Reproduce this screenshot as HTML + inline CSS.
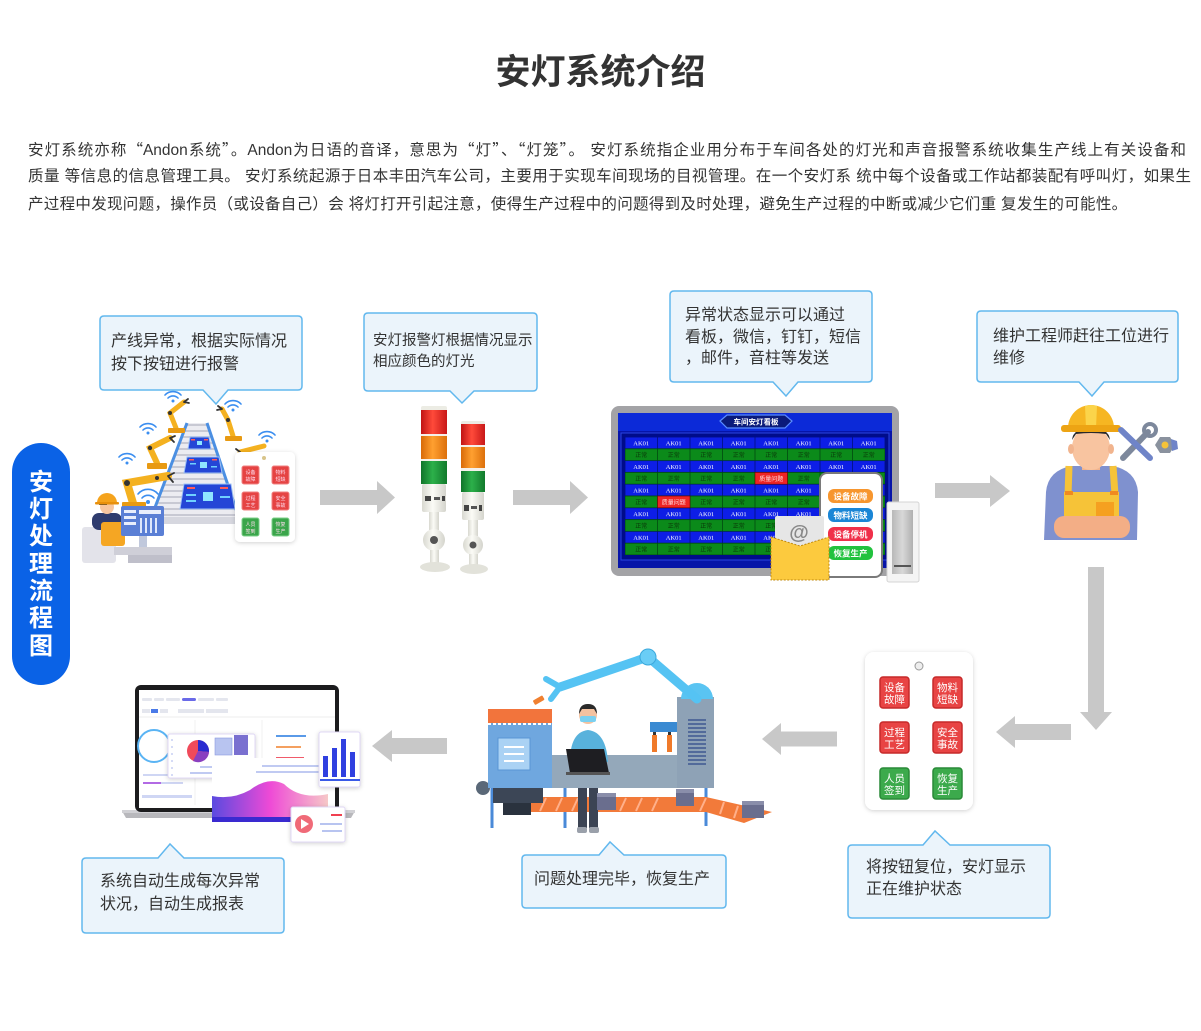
<!DOCTYPE html>
<html><head><meta charset="utf-8">
<style>
html,body{margin:0;padding:0;background:#fff;}
body{width:1201px;height:1031px;position:relative;overflow:hidden;font-family:"Liberation Sans","Noto Sans CJK SC",sans-serif;color:#333;}
.t{position:absolute;white-space:nowrap;}
.p{position:absolute;left:28px;font-size:15.5px;line-height:28px;text-align:justify;text-align-last:justify;color:#333;}
.q{font-family:"Noto Sans CJK SC",sans-serif;}
.c{position:absolute;white-space:nowrap;font-size:16px;color:#333;}
svg{position:absolute;left:0;top:0;}
.pill{position:absolute;left:12px;top:443px;width:58px;height:242px;border-radius:29px;background:#0a62e6;}
.pill div{position:absolute;left:0;width:58px;text-align:center;color:#fff;font-weight:bold;font-size:24px;line-height:28px;}
</style></head><body>

<div class="t" style="left:0;width:1201px;top:50px;text-align:center;font-size:35px;font-weight:bold;line-height:46px;color:#333;">安灯系统介绍</div>

<div class="p" style="top:135px;width:1158px;">安灯系统亦称<span class="q">“</span>Andon系统<span class="q">”</span>。Andon为日语的音译，意思为<span class="q">“</span>灯<span class="q">”</span>、<span class="q">“</span>灯笼<span class="q">”</span>。 安灯系统指企业用分布于车间各处的灯光和声音报警系统收集生产线上有关设备和</div>
<div class="p" style="top:163px;width:1163px;">质量 等信息的信息管理工具。 安灯系统起源于日本丰田汽车公司，主要用于实现车间现场的目视管理。在一个安灯系 统中每个设备或工作站都装配有呼叫灯，如果生</div>
<div class="p" style="top:191px;width:1160px;text-align:left;text-align-last:left;letter-spacing:0.3px;white-space:nowrap;">产过程中发现问题，操作员（或设备自己）会 将灯打开引起注意，使得生产过程中的问题得到及时处理，避免生产过程的中断或减少它们重 复发生的可能性。</div>

<svg width="1201" height="1031" viewBox="0 0 1201 1031" xmlns="http://www.w3.org/2000/svg" font-family="Liberation Sans, Noto Sans CJK SC, sans-serif">
<defs>
<pattern id="stripes" width="10" height="6" patternUnits="userSpaceOnUse"><rect width="10" height="6" fill="#ececf1"/><rect y="4" width="10" height="2" fill="#c8c9d3"/></pattern>
<pattern id="grid" x="625" y="437" width="32.5" height="23.6" patternUnits="userSpaceOnUse">
<rect x="0" y="0" width="32.5" height="11.8" fill="#0d1ee6" stroke="#00107a" stroke-width="0.8"/>
<text x="16.25" y="8.6" font-size="6.5" fill="#fff" text-anchor="middle" font-family="Liberation Serif, serif">AK01</text>
<rect x="0" y="11.8" width="32.5" height="11.8" fill="#0b8a1a" stroke="#004a10" stroke-width="0.8"/>
<text x="16.25" y="20.4" font-size="6" fill="#083a08" text-anchor="middle">正常</text>
</pattern>
<linearGradient id="wave" x1="0" x2="1" y1="0" y2="0"><stop offset="0" stop-color="#5a4ae0"/><stop offset="0.5" stop-color="#ee4ad6"/><stop offset="1" stop-color="#f6c8c8"/></linearGradient>
<linearGradient id="redg" x1="0" x2="1"><stop offset="0" stop-color="#c01414"/><stop offset="0.45" stop-color="#ff4a3a"/><stop offset="1" stop-color="#c81818"/></linearGradient>
<linearGradient id="orag" x1="0" x2="1"><stop offset="0" stop-color="#d86a08"/><stop offset="0.45" stop-color="#ffa030"/><stop offset="1" stop-color="#dc700c"/></linearGradient>
<linearGradient id="greg" x1="0" x2="1"><stop offset="0" stop-color="#10742a"/><stop offset="0.45" stop-color="#2cb04a"/><stop offset="1" stop-color="#127a2c"/></linearGradient>
<linearGradient id="whg" x1="0" x2="1"><stop offset="0" stop-color="#d8d8d0"/><stop offset="0.45" stop-color="#fbfbf6"/><stop offset="1" stop-color="#d4d4cc"/></linearGradient>
<linearGradient id="spk" x1="0" x2="1"><stop offset="0" stop-color="#b8b8b8"/><stop offset="0.5" stop-color="#d8d8d8"/><stop offset="1" stop-color="#b0b0b0"/></linearGradient>
<filter id="sh" x="-20%" y="-20%" width="140%" height="140%"><feDropShadow dx="0" dy="1" stdDeviation="2" flood-color="#000" flood-opacity="0.18"/></filter>
</defs>

<!-- callouts -->
<g fill="#ebf4fb" stroke="#62b8ee" stroke-width="1.5">
<path d="M104,316 H298 Q302,316 302,320 V386 Q302,390 298,390 H228 L216,404 L203,390 H104 Q100,390 100,386 V320 Q100,316 104,316 Z"/>
<path d="M368,313 H533 Q537,313 537,317 V387 Q537,391 533,391 H474 L462,403 L450,391 H368 Q364,391 364,387 V317 Q364,313 368,313 Z"/>
<path d="M674,291 H868 Q872,291 872,295 V378 Q872,382 868,382 H798 L786,396 L773,382 H674 Q670,382 670,378 V295 Q670,291 674,291 Z"/>
<path d="M981,311 H1174 Q1178,311 1178,315 V378 Q1178,382 1174,382 H1104 L1092,396 L1079,382 H981 Q977,382 977,378 V315 Q977,311 981,311 Z"/>
<path d="M86,858 H158 L170,844 L184,858 H280 Q284,858 284,862 V929 Q284,933 280,933 H86 Q82,933 82,929 V862 Q82,858 86,858 Z"/>
<path d="M526,855 H599 L610,842 L624,855 H722 Q726,855 726,859 V904 Q726,908 722,908 H526 Q522,908 522,904 V859 Q522,855 526,855 Z"/>
<path d="M852,845 H923 L935,831 L950,845 H1046 Q1050,845 1050,849 V914 Q1050,918 1046,918 H852 Q848,918 848,914 V849 Q848,845 852,845 Z"/>
</g>

<!-- arrows -->
<g fill="#c8c8c8">
<polygon points="320,490 377,490 377,481 395,497.5 377,514 377,505 320,505"/>
<polygon points="513,490 570,490 570,481 588,497.5 570,514 570,505 513,505"/>
<polygon points="935,483 990,483 990,475 1010,491 990,507 990,498 935,498"/>
<polygon points="1088,567 1104,567 1104,712 1112,712 1096,730 1080,712 1088,712"/>
<polygon points="1071,724 1015,724 1015,716 996,732 1015,748 1015,740 1071,740"/>
<polygon points="837,731.5 781,731.5 781,723 762,739 781,755 781,746.5 837,746.5"/>
<polygon points="447,738 392,738 392,730 372,746 392,762 392,754 447,754"/>
</g>

<!-- ===== Illustration 1: factory line ===== -->
<polygon points="187,423 207,423 239,518 151,518" fill="url(#stripes)"/>
<line x1="187" y1="423" x2="151" y2="518" stroke="#4b8fe2" stroke-width="3"/>
<line x1="207" y1="423" x2="239" y2="518" stroke="#4b8fe2" stroke-width="3"/>
<rect x="150" y="517" width="92" height="7" fill="#d6d7df"/>
<g stroke="#9fc2f6" stroke-width="1">
<polygon points="190,437 209,437 211,449 188,449" fill="#2446d6"/>
<polygon points="187,457 219,457 222,473 184,473" fill="#2446d6"/>
<polygon points="184,484 231,484 235,509 180,509" fill="#2446d6"/>
</g>
<rect x="197" y="441" width="5" height="4" fill="#8fe6ff"/>
<rect x="200" y="462" width="7" height="6" fill="#8fe6ff"/>
<rect x="203" y="492" width="10" height="9" fill="#8fe6ff"/>
<g fill="#ff5a5a"><rect x="191" y="439" width="4" height="1.5"/><rect x="204" y="439" width="4" height="1.5"/><rect x="189" y="459" width="5" height="1.5"/><rect x="212" y="459" width="5" height="1.5"/><rect x="187" y="487" width="8" height="2"/><rect x="220" y="487" width="8" height="2"/></g>
<g fill="#6fd0ff"><rect x="190" y="463" width="6" height="1.5"/><rect x="211" y="466" width="6" height="1.5"/><rect x="186" y="494" width="10" height="2"/><rect x="220" y="496" width="10" height="2"/><rect x="186" y="500" width="10" height="2"/></g>
<!-- arms -->
<g stroke="#f4b120" stroke-linecap="round" fill="none">
<polyline points="176,428 170,413 184,402" stroke-width="5"/>
<polyline points="157,463 150,448 170,438" stroke-width="6"/>
<polyline points="133,503 127,483 168,476" stroke-width="8"/>
<polyline points="233,436 228,420 222,409" stroke-width="5"/>
<polyline points="240,452 264,446" stroke-width="5"/>
</g>
<g fill="#e89a12"><rect x="168" y="428" width="17" height="5" rx="1"/><rect x="147" y="463" width="20" height="6" rx="1"/><rect x="122" y="502" width="24" height="7" rx="1"/><rect x="225" y="436" width="17" height="5" rx="1"/></g>
<g fill="#333"><circle cx="170" cy="413" r="2"/><circle cx="150" cy="448" r="2.2"/><circle cx="127" cy="483" r="3"/><circle cx="228" cy="420" r="2"/><circle cx="157" cy="478" r="2"/></g>
<g stroke="#333" stroke-width="1.8" fill="none" stroke-linecap="round">
<path d="M184,402 l4,-3 M184,402 l5,1"/>
<path d="M170,438 l5,-2 M170,438 l4,4"/>
<path d="M168,476 l6,-3 M168,476 l5,6"/>
<path d="M222,409 l-4,-3 M222,409 l-5,1"/>
<path d="M240,452 l-4,-3"/>
</g>
<!-- wifi -->
<g fill="none" stroke="#3b8ef0" stroke-width="1.6" stroke-linecap="round">
<path d="M168,398 a7,7 0 0 1 10,0 M165,395 a11,11 0 0 1 16,0"/>
<path d="M228,407 a7,7 0 0 1 10,0 M225,404 a11,11 0 0 1 16,0"/>
<path d="M143,430 a7,7 0 0 1 10,0 M140,427 a11,11 0 0 1 16,0"/>
<path d="M122,460 a7,7 0 0 1 10,0 M119,457 a11,11 0 0 1 16,0"/>
<path d="M262,438 a7,7 0 0 1 10,0 M259,435 a11,11 0 0 1 16,0"/>
<path d="M142,498 a8,8 0 0 1 12,0 M138,494 a13,13 0 0 1 20,0"/>
</g>
<g fill="#3b8ef0"><circle cx="173" cy="401" r="1.5"/><circle cx="233" cy="410" r="1.5"/><circle cx="148" cy="433" r="1.5"/><circle cx="127" cy="463" r="1.5"/><circle cx="267" cy="441" r="1.5"/><circle cx="148" cy="502" r="2"/></g>
<!-- worker 1 -->
<rect x="82" y="527" width="34" height="36" rx="3" fill="#e3e3ea"/>
<rect x="92" y="513" width="30" height="17" rx="7" fill="#2f3c6e"/>
<rect x="101" y="522" width="24" height="24" rx="3" fill="#f5a623"/>
<circle cx="107" cy="507" r="7" fill="#f7c6a0"/>
<path d="M99,505 q2,-5 8,-4 l0,4 z" fill="#333"/>
<path d="M97,503 A10,10 0 0 1 117,503 Z" fill="#f5a31c"/>
<rect x="95" y="502" width="24" height="2.5" rx="1" fill="#e8900c"/>
<rect x="121" y="506" width="43" height="30" rx="2" fill="#5a7fd5"/>
<g fill="#e8eefc"><rect x="124" y="510" width="12" height="3"/><rect x="124" y="516" width="12" height="3"/><rect x="124" y="522" width="12" height="3"/><rect x="139" y="510" width="22" height="4"/></g>
<g fill="#dfe8fb"><rect x="140" y="518" width="2" height="15"/><rect x="145" y="518" width="2" height="15"/><rect x="150" y="518" width="2" height="15"/><rect x="155" y="518" width="2" height="15"/></g>
<rect x="139" y="536" width="8" height="12" fill="#c0c8dc"/>
<rect x="114" y="547" width="58" height="8" fill="#cfcfd8"/>
<rect x="128" y="555" width="44" height="8" fill="#bfbfca"/>
<!-- button card 1 -->
<rect x="235" y="452" width="60" height="90" rx="5" fill="#fff" filter="url(#sh)"/>
<circle cx="264" cy="458" r="2" fill="#d8c48a"/>
<g stroke-width="1">
<rect x="242" y="466" width="17" height="18" rx="2" fill="#e54343" stroke="#f08080"/>
<rect x="272" y="466" width="17" height="18" rx="2" fill="#e54343" stroke="#f08080"/>
<rect x="242" y="492" width="17" height="18" rx="2" fill="#e54343" stroke="#f08080"/>
<rect x="272" y="492" width="17" height="18" rx="2" fill="#e54343" stroke="#f08080"/>
<rect x="242" y="518" width="17" height="18" rx="2" fill="#3aa54a" stroke="#7cd08a"/>
<rect x="272" y="518" width="17" height="18" rx="2" fill="#3aa54a" stroke="#7cd08a"/>
</g>
<g font-size="5" fill="#fde" text-anchor="middle">
<text x="250.5" y="474">设备</text><text x="250.5" y="481">故障</text>
<text x="280.5" y="474">物料</text><text x="280.5" y="481">短缺</text>
<text x="250.5" y="500">过程</text><text x="250.5" y="507">工艺</text>
<text x="280.5" y="500">安全</text><text x="280.5" y="507">事故</text>
<text x="250.5" y="526">人员</text><text x="250.5" y="533">签到</text>
<text x="280.5" y="526">恢复</text><text x="280.5" y="533">生产</text>
</g>

<!-- ===== Tower lights ===== -->
<g>
<rect x="421" y="406" width="26" height="5" rx="2" fill="#ececE4"/>
<rect x="421" y="410" width="26" height="24" fill="url(#redg)"/>
<rect x="421" y="434" width="26" height="2" fill="#f4f0ea"/>
<rect x="421" y="436" width="26" height="23" fill="url(#orag)"/>
<rect x="421" y="459" width="26" height="2" fill="#f4f0ea"/>
<rect x="421" y="461" width="26" height="23" fill="url(#greg)"/>
<rect x="422" y="484" width="24" height="28" rx="2" fill="url(#whg)"/>
<rect x="425" y="496" width="6" height="5" fill="#444"/><rect x="434" y="497" width="6" height="3" fill="#555"/><rect x="442" y="496" width="3" height="5" fill="#444"/>
<rect x="429" y="512" width="10" height="18" fill="url(#whg)"/>
<circle cx="434" cy="540" r="11" fill="url(#whg)"/>
<circle cx="434" cy="540" r="4" fill="#555"/>
<rect x="430" y="550" width="9" height="14" fill="url(#whg)"/>
<ellipse cx="435" cy="567" rx="15" ry="5" fill="#e2e2da"/>
</g>
<g>
<rect x="461" y="421" width="24" height="5" rx="2" fill="#ececE4"/>
<rect x="461" y="424" width="24" height="21" fill="url(#redg)"/>
<rect x="461" y="445" width="24" height="2" fill="#f4f0ea"/>
<rect x="461" y="447" width="24" height="21" fill="url(#orag)"/>
<rect x="461" y="468" width="24" height="3" fill="#f4f0ea"/>
<rect x="461" y="471" width="24" height="21" fill="url(#greg)"/>
<rect x="462" y="492" width="22" height="28" rx="2" fill="url(#whg)"/>
<rect x="464" y="505" width="5" height="6" fill="#444"/><rect x="471" y="506" width="6" height="3" fill="#555"/><rect x="479" y="505" width="3" height="6" fill="#444"/>
<rect x="468" y="520" width="10" height="16" fill="url(#whg)"/>
<circle cx="473" cy="545" r="10" fill="url(#whg)"/>
<circle cx="473" cy="545" r="3.5" fill="#555"/>
<rect x="469" y="554" width="9" height="12" fill="url(#whg)"/>
<ellipse cx="474" cy="569" rx="14" ry="5" fill="#e2e2da"/>
</g>

<!-- ===== Monitor ===== -->
<rect x="611" y="406" width="288" height="170" rx="8" fill="#a3a3a6"/>
<rect x="618" y="413" width="274" height="155" fill="#0614a8"/>
<rect x="618" y="413" width="274" height="18" fill="#0c2ad8"/>
<polygon points="720,421 727,415 785,415 792,421 785,428 727,428" fill="#0a1a7a" stroke="#5a8cff" stroke-width="1.2"/>
<text x="756" y="424.5" font-size="7.5" font-weight="bold" fill="#fff" text-anchor="middle">车间安灯看板</text>
<rect x="621" y="433" width="268" height="127" fill="#000c8a" stroke="#2a44e0" stroke-width="1"/>
<rect x="625" y="437" width="260" height="118" fill="url(#grid)"/>
<rect x="755" y="472.4" width="32.5" height="11.8" fill="#ee2424" stroke="#600" stroke-width="0.6"/>
<text x="771.25" y="480.8" font-size="6" fill="#fdd" text-anchor="middle">质量问题</text>
<rect x="657.5" y="496" width="32.5" height="11.8" fill="#ee2424" stroke="#600" stroke-width="0.6"/>
<text x="673.75" y="504.4" font-size="6" fill="#fdd" text-anchor="middle">质量问题</text>
<!-- phone -->
<rect x="820" y="473" width="62" height="104" rx="7" fill="#fff" stroke="#7a7a7a" stroke-width="2"/>
<rect x="828" y="489" width="45" height="14" rx="6" fill="#f7962e"/>
<rect x="828" y="508" width="45" height="14" rx="6" fill="#1a86d6"/>
<rect x="828" y="527" width="45" height="14" rx="6" fill="#f0304a"/>
<rect x="828" y="546" width="45" height="14" rx="6" fill="#22c23e"/>
<g font-size="8.5" font-weight="bold" fill="#fff" text-anchor="middle">
<text x="850.5" y="499.5">设备故障</text><text x="850.5" y="518.5">物料短缺</text><text x="850.5" y="537.5">设备停机</text><text x="850.5" y="556.5">恢复生产</text>
</g>
<!-- envelope -->
<rect x="775" y="516" width="49" height="30" rx="2" fill="#e6e6e6"/>
<text x="799" y="539" font-size="20" fill="#888" text-anchor="middle" font-weight="bold">@</text>
<path d="M771,537 L800,546 L829,537 V580 H771 Z" fill="#fcca3e" stroke="#c08a10" stroke-width="1" stroke-dasharray="2,1.5"/>
<!-- speaker -->
<rect x="887" y="502" width="32" height="80" rx="2" fill="#f4f4f4" stroke="#d4d4d4"/>
<rect x="892" y="510" width="21" height="64" fill="url(#spk)"/>
<rect x="894" y="565" width="17" height="2" fill="#555"/>

<!-- ===== Worker top-right ===== -->
<path d="M1044,540 L1046,492 Q1048,470 1072,466 L1112,466 Q1136,470 1138,492 L1137,540 Z" fill="#7f91cf"/>
<rect x="1082" y="456" width="18" height="14" fill="#f1b48e"/>
<path d="M1064,492 H1119 V530 H1064 Z" fill="#f6c338"/>
<g stroke="#f6c338" stroke-width="7"><line x1="1069" y1="466" x2="1068" y2="495"/><line x1="1113" y1="466" x2="1115" y2="495"/></g>
<rect x="1065" y="491" width="8" height="4" fill="#f08a20"/><rect x="1110" y="491" width="8" height="4" fill="#f08a20"/>
<rect x="1096" y="502" width="18" height="20" fill="#f5a020"/>
<rect x="1054" y="516" width="76" height="22" rx="10" fill="#f3ae86"/>
<ellipse cx="1091" cy="448" rx="19" ry="22" fill="#f8c4a0"/>
<ellipse cx="1071" cy="449" rx="3" ry="5" fill="#f1b48e"/><ellipse cx="1111" cy="449" rx="3" ry="5" fill="#f1b48e"/>
<path d="M1072,440 Q1073,428 1091,428 Q1109,428 1110,440 L1106,434 Q1091,432 1076,434 Z" fill="#2a2a2a"/>
<path d="M1068,428 A23,23 0 0 1 1114,428 Z" fill="#f6b622"/>
<path d="M1085,406 Q1091,404 1097,406 L1096,428 H1086 Z" fill="#fbd44a"/>
<rect x="1061" y="425" width="60" height="7" rx="3" fill="#eda414"/>
<g stroke-linecap="round">
<line x1="1123" y1="458" x2="1148" y2="432" stroke="#7d889c" stroke-width="6"/>
<circle cx="1150" cy="430" r="6" fill="none" stroke="#7d889c" stroke-width="4"/>
<line x1="1121" y1="430" x2="1150" y2="458" stroke="#6f84c8" stroke-width="6"/>
</g>
<polygon points="1160,437 1170,437 1175,445 1170,453 1160,453 1155,445" fill="#8a929e"/>
<circle cx="1165" cy="445" r="3.5" fill="#f6c338"/>
<polygon points="1171,439 1177,441 1178,449 1172,451" fill="#6f84c8"/>

<!-- ===== Button panel bottom-right ===== -->
<rect x="865" y="652" width="108" height="158" rx="9" fill="#fff" filter="url(#sh)"/>
<circle cx="919" cy="666" r="4" fill="#eee" stroke="#999" stroke-width="1"/>
<g stroke-width="1.5">
<rect x="880" y="677" width="29" height="31" rx="3" fill="#e84444" stroke="#c62a2a"/>
<rect x="933" y="677" width="29" height="31" rx="3" fill="#e84444" stroke="#c62a2a"/>
<rect x="880" y="722" width="29" height="31" rx="3" fill="#e84444" stroke="#c62a2a"/>
<rect x="933" y="722" width="29" height="31" rx="3" fill="#e84444" stroke="#c62a2a"/>
<rect x="880" y="768" width="29" height="31" rx="3" fill="#3caa4c" stroke="#2a8a38"/>
<rect x="933" y="768" width="29" height="31" rx="3" fill="#3caa4c" stroke="#2a8a38"/>
</g>
<g font-size="10.5" fill="#fff" text-anchor="middle">
<text x="894.5" y="691">设备</text><text x="894.5" y="703">故障</text>
<text x="947.5" y="691">物料</text><text x="947.5" y="703">短缺</text>
<text x="894.5" y="736">过程</text><text x="894.5" y="748">工艺</text>
<text x="947.5" y="736">安全</text><text x="947.5" y="748">事故</text>
<text x="894.5" y="782">人员</text><text x="894.5" y="794">签到</text>
<text x="947.5" y="782">恢复</text><text x="947.5" y="794">生产</text>
</g>

<!-- ===== Factory bottom-middle ===== -->
<g stroke="#4a8ad8" stroke-width="3">
<line x1="492" y1="785" x2="492" y2="828"/>
<line x1="565" y1="787" x2="565" y2="828"/>
<line x1="706" y1="787" x2="706" y2="826"/>
</g>
<polygon points="528,797 706,797 772,812 744,823 706,812 528,812" fill="#f27a3a"/>
<g stroke="#ffb08a" stroke-width="2">
<line x1="540" y1="811" x2="546" y2="798"/><line x1="556" y1="811" x2="562" y2="798"/><line x1="572" y1="811" x2="578" y2="798"/><line x1="620" y1="811" x2="626" y2="798"/><line x1="636" y1="811" x2="642" y2="798"/><line x1="652" y1="811" x2="658" y2="798"/><line x1="700" y1="811" x2="706" y2="798"/><line x1="720" y1="814" x2="724" y2="802"/><line x1="734" y1="818" x2="738" y2="806"/>
</g>
<rect x="493" y="787" width="50" height="16" fill="#3c4656"/>
<rect x="503" y="803" width="28" height="12" fill="#2a323e"/>
<circle cx="483" cy="788" r="7" fill="#5a6878"/>
<rect x="488" y="712" width="64" height="76" fill="#6fa7df"/>
<rect x="488" y="709" width="64" height="14" fill="#f2743c"/>
<line x1="488" y1="724" x2="552" y2="724" stroke="#fff" stroke-width="2" stroke-dasharray="3,2"/>
<rect x="498" y="738" width="32" height="32" fill="#aad2f4" stroke="#5a96d4"/>
<g stroke="#fff" stroke-width="2"><line x1="504" y1="747" x2="524" y2="747"/><line x1="504" y1="754" x2="524" y2="754"/><line x1="504" y1="761" x2="524" y2="761"/></g>
<rect x="552" y="755" width="126" height="33" fill="#94a8ba"/>
<rect x="677" y="697" width="37" height="91" fill="#8ea2b6"/>
<path d="M681,699 A16,16 0 0 1 713,699 Z" fill="#5ac4f2"/>
<g stroke="#2f4a8a" stroke-width="1.3">
<line x1="688" y1="720" x2="706" y2="720"/><line x1="688" y1="724" x2="706" y2="724"/><line x1="688" y1="728" x2="706" y2="728"/><line x1="688" y1="732" x2="706" y2="732"/><line x1="688" y1="736" x2="706" y2="736"/><line x1="688" y1="740" x2="706" y2="740"/><line x1="688" y1="744" x2="706" y2="744"/><line x1="688" y1="748" x2="706" y2="748"/><line x1="688" y1="752" x2="706" y2="752"/><line x1="688" y1="756" x2="706" y2="756"/><line x1="688" y1="760" x2="706" y2="760"/><line x1="688" y1="764" x2="706" y2="764"/>
</g>
<rect x="650" y="722" width="27" height="10" fill="#3a8ad2"/>
<rect x="652" y="735" width="5" height="17" fill="#f07a2a"/><rect x="667" y="735" width="5" height="17" fill="#f07a2a"/>
<rect x="653" y="732" width="3" height="3" fill="#333"/><rect x="668" y="732" width="3" height="3" fill="#333"/>
<g stroke="#55c3f3" stroke-linecap="round" fill="none">
<line x1="560" y1="687" x2="648" y2="657" stroke-width="9"/>
<line x1="648" y1="657" x2="697" y2="699" stroke-width="9"/>
<path d="M560,687 L546,679 M560,687 L551,699" stroke-width="6"/>
</g>
<circle cx="648" cy="657" r="8" fill="#6acdf6" stroke="#3aa8dc"/>
<rect x="533" y="698" width="11" height="5" rx="1" fill="#f08030" transform="rotate(-30 538 700)"/>
<path d="M570,762 Q570,732 588,730 Q606,732 608,762 Z" fill="#58b2dc"/>
<circle cx="588" cy="715" r="9" fill="#f4c2a0"/>
<path d="M579,714 Q579,704 588,704 Q597,704 597,714 L594,709 H582 Z" fill="#2a2a2a"/>
<rect x="580" y="716" width="16" height="6" rx="2" fill="#7ad0f0"/>
<rect x="578" y="788" width="9" height="40" fill="#3c4454"/><rect x="589" y="788" width="9" height="40" fill="#3c4454"/>
<rect x="577" y="827" width="10" height="6" rx="2" fill="#9aa0aa"/><rect x="589" y="827" width="10" height="6" rx="2" fill="#9aa0aa"/>
<polygon points="566,749 604,749 609,773 570,773" fill="#1e1e22"/>
<rect x="566" y="772" width="44" height="3" fill="#555"/>
<g fill="#6a6e8e"><rect x="597" y="796" width="19" height="14"/><rect x="676" y="792" width="18" height="14"/><rect x="742" y="804" width="22" height="14"/></g>
<g fill="#8a8eaa"><rect x="597" y="793" width="19" height="4"/><rect x="676" y="789" width="18" height="4"/><rect x="742" y="801" width="22" height="4"/></g>

<!-- ===== Laptop dashboard ===== -->
<path d="M122,811 H355 L351,818 H126 Z" fill="#b8b8bc"/>
<rect x="122" y="810" width="233" height="3" fill="#d0d0d4"/>
<rect x="135" y="685" width="204" height="127" rx="6" fill="#1c1c1e"/>
<rect x="139" y="690" width="196" height="118" fill="#fff"/>
<g fill="#e4e6ee"><rect x="142" y="698" width="10" height="3" rx="1"/><rect x="154" y="698" width="10" height="3" rx="1"/><rect x="166" y="698" width="14" height="3" rx="1"/><rect x="198" y="698" width="16" height="3" rx="1"/><rect x="216" y="698" width="12" height="3" rx="1"/><rect x="142" y="709" width="8" height="4"/><rect x="160" y="709" width="8" height="4"/><rect x="178" y="709" width="26" height="4"/><rect x="206" y="709" width="22" height="4"/></g>
<rect x="182" y="698" width="14" height="3" rx="1.5" fill="#6a6ae8"/>
<rect x="151" y="709" width="7" height="4" fill="#4a7ae8"/>
<line x1="139" y1="717" x2="335" y2="717" stroke="#eee"/>
<line x1="195" y1="720" x2="195" y2="805" stroke="#f0f0f0"/><line x1="262" y1="720" x2="262" y2="805" stroke="#f0f0f0"/>
<circle cx="154" cy="746" r="16" fill="none" stroke="#5ab4f4" stroke-width="2"/>
<g fill="#cfd6f4"><rect x="143" y="774" width="30" height="2"/><rect x="143" y="782" width="40" height="2"/><rect x="142" y="795" width="50" height="3"/></g>
<rect x="143" y="782" width="18" height="2" fill="#b26ae4"/>
<rect x="276" y="735" width="30" height="2" fill="#5a9ae8"/><rect x="276" y="746" width="25" height="2" fill="#f4a060"/><rect x="276" y="757" width="28" height="2" fill="#f05a6a"/>
<!-- pie card -->
<rect x="168" y="734" width="87" height="44" rx="2" fill="#fff" stroke="#e0d8f6" filter="url(#sh)"/>
<g fill="#c8d0f4"><circle cx="172" cy="740" r="1"/><circle cx="172" cy="747" r="1"/><circle cx="172" cy="754" r="1"/><circle cx="172" cy="761" r="1"/><circle cx="172" cy="768" r="1"/><circle cx="172" cy="775" r="1"/></g>
<circle cx="198" cy="751" r="11" fill="#f04a5a"/>
<path d="M198,751 V740 A11,11 0 0 1 209,752 Z" fill="#2a2ad0"/>
<path d="M198,751 L209,752 A11,11 0 0 1 193,761 Z" fill="#8a40c0"/>
<rect x="215" y="738" width="17" height="17" fill="#b8c4f0" stroke="#8a9ae0" stroke-width="0.6"/>
<rect x="234" y="735" width="14" height="20" fill="#7a70d0"/>
<g fill="#c0caf2"><rect x="214" y="760" width="38" height="2"/><rect x="200" y="766" width="52" height="2"/><rect x="190" y="772" width="62" height="2"/></g>
<!-- wave card -->
<rect x="212" y="758" width="116" height="64" fill="#fff"/>
<path d="M212,796 Q232,800 250,790 Q268,776 284,784 Q300,800 328,794 V817 H212 Z" fill="url(#wave)"/>
<rect x="212" y="817" width="88" height="5" fill="#3a2ad0"/>
<g fill="#c0caf2"><rect x="262" y="765" width="64" height="2"/><rect x="256" y="771" width="70" height="2"/></g>
<!-- bar card -->
<rect x="319" y="732" width="41" height="55" rx="2" fill="#fff" stroke="#e0d8f6" filter="url(#sh)"/>
<g fill="#3040e0"><rect x="323" y="756" width="5" height="21"/><rect x="332" y="748" width="5" height="29"/><rect x="341" y="739" width="5" height="38"/><rect x="350" y="752" width="5" height="25"/></g>
<rect x="320" y="779" width="40" height="2" fill="#3a5ae8"/>
<!-- play card -->
<rect x="291" y="807" width="54" height="35" rx="2" fill="#fff" stroke="#e0d8f6" filter="url(#sh)"/>
<circle cx="304" cy="824" r="9" fill="#f06a78"/>
<polygon points="301,819 309,824 301,829" fill="#fff"/>
<rect x="331" y="814" width="11" height="2" fill="#f04050"/>
<rect x="320" y="823" width="22" height="2" fill="#b8c4f0"/><rect x="322" y="830" width="20" height="2" fill="#b8c4f0"/>
</svg>

<div class="pill">
<div style="top:26px;">安</div>
<div style="top:53px;">灯</div>
<div style="top:80px;">处</div>
<div style="top:108px;">理</div>
<div style="top:135px;">流</div>
<div style="top:162px;">程</div>
<div style="top:190px;">图</div>
</div>

<div class="c" style="left:111px;top:331px;line-height:22.5px;">产线异常，根据实际情况<br>按下按钮进行报警</div>
<div class="c" style="left:373px;top:331px;line-height:21px;font-size:14.5px;">安灯报警灯根据情况显示<br>相应颜色的灯光</div>
<div class="c" style="left:685px;top:305px;line-height:21.5px;">异常状态显示可以通过<br>看板，微信，钉钉，短信<br>，邮件，音柱等发送</div>
<div class="c" style="left:993px;top:326px;line-height:21.5px;">维护工程师赶往工位进行<br>维修</div>
<div class="c" style="left:100px;top:870px;line-height:23px;">系统自动生成每次异常<br>状况，自动生成报表</div>
<div class="c" style="left:534px;top:869px;line-height:22px;">问题处理完毕，恢复生产</div>
<div class="c" style="left:866px;top:857px;line-height:22px;">将按钮复位，安灯显示<br>正在维护状态</div>

</body></html>
